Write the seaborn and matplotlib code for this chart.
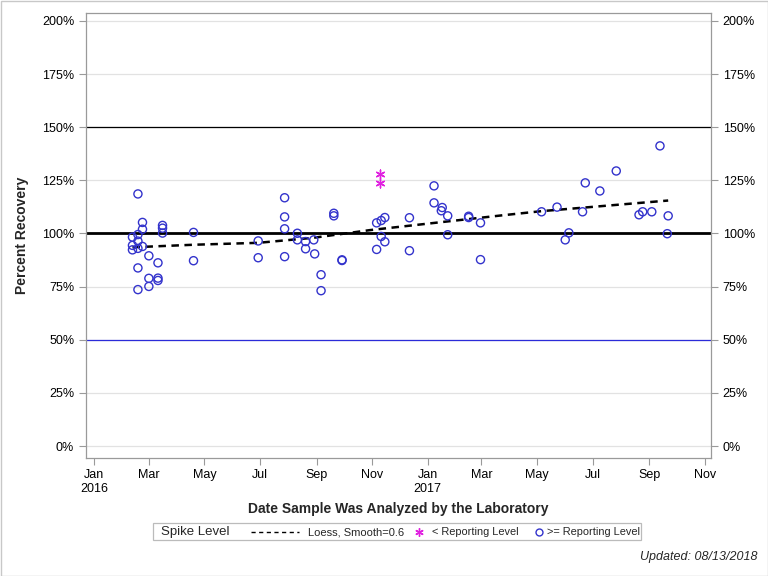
import matplotlib
matplotlib.use("Agg")
import matplotlib.pyplot as plt
import matplotlib.dates as mdates
from matplotlib.lines import Line2D
from matplotlib.patches import Rectangle
import seaborn as sns
import pandas as pd
import numpy as np

# ---- data ----
ge_dates = [
    "2016-02-18", "2016-02-23", "2016-02-23", "2016-02-18", "2016-02-12", "2016-02-18",
    "2016-02-12", "2016-02-23", "2016-02-18", "2016-02-12", "2016-03-01", "2016-03-11",
    "2016-02-18", "2016-03-01", "2016-03-11", "2016-03-11", "2016-03-01", "2016-02-18",
    "2016-03-16", "2016-03-16", "2016-03-16", "2016-04-19", "2016-04-19",
    "2016-06-29", "2016-06-29", "2016-07-28", "2016-07-28", "2016-07-28", "2016-07-28",
    "2016-08-11", "2016-08-11", "2016-08-20", "2016-08-20", "2016-08-29", "2016-08-30",
    "2016-09-06", "2016-09-06", "2016-09-20", "2016-09-20", "2016-09-29", "2016-09-29",
    "2016-11-06", "2016-11-11", "2016-11-15", "2016-11-11", "2016-11-15", "2016-11-06",
    "2016-12-12", "2016-12-12",
    "2017-01-08", "2017-01-08", "2017-01-17", "2017-01-16", "2017-01-23", "2017-01-23",
    "2017-02-15", "2017-02-15", "2017-02-28", "2017-02-28",
    "2017-05-06", "2017-05-23", "2017-06-20", "2017-06-23", "2017-07-09", "2017-07-27",
    "2017-06-01", "2017-06-05", "2017-08-21", "2017-08-25", "2017-09-04", "2017-09-13",
    "2017-09-22", "2017-09-21",
]
ge_values = [
    118.6, 105.2, 102.0, 99.5, 98.3, 96.4,
    94.4, 93.9, 93.0, 92.3, 89.5, 86.2,
    83.8, 78.9, 79.0, 77.9, 75.1, 73.6,
    103.8, 102.5, 100.2, 100.5, 87.2,
    96.5, 88.6, 116.8, 107.8, 102.2, 89.1,
    100.1, 97.0, 96.2, 92.8, 97.0, 90.4,
    80.6, 73.1, 109.5, 108.3, 87.6, 87.3,
    105.0, 106.1, 107.5, 98.6, 96.1, 92.5,
    107.4, 91.9,
    122.4, 114.4, 112.2, 110.7, 108.3, 99.4,
    108.1, 107.5, 105.0, 87.7,
    110.2, 112.4, 110.2, 123.8, 120.0, 129.4,
    97.0, 100.3, 108.8, 110.2, 110.2, 141.2,
    108.3, 99.9,
]
lt_dates = ["2016-11-10", "2016-11-10"]
lt_values = [128.0, 123.8]

loess_dates = ["2016-02-12", "2016-04-19", "2016-06-29", "2016-08-29",
               "2016-10-30", "2017-03-23", "2017-05-06", "2017-09-22"]
loess_values = [93.5, 94.7, 95.6, 98.0, 101.6, 108.5, 110.5, 115.5]

y_ticks = [0, 25, 50, 75, 100, 125, 150, 175, 200]
ref_lines = {150: ("black", 0.9), 100: ("black", 2.0), 50: ("#2B2BD9", 0.9)}

ge = pd.DataFrame({"date": pd.to_datetime(ge_dates), "pct": ge_values})
lt = pd.DataFrame({"date": pd.to_datetime(lt_dates), "pct": lt_values})
lo = pd.DataFrame({"date": pd.to_datetime(loess_dates), "pct": loess_values})

sns.set_theme(style="white")
plt.rcParams["font.family"] = ["Liberation Sans", "DejaVu Sans"]

fig = plt.figure(figsize=(7.68, 5.76), dpi=100)
ax = fig.add_axes([86/768, 1-458/576, (711-86)/768, (458-13)/576])

frame_col = "#9A9A9A"
for y in y_ticks:
    ax.axhline(y, color="#E2E2E2", lw=0.9, zorder=0)
for y, (c, w) in ref_lines.items():
    ax.axhline(y, color=c, lw=w, zorder=1)

sns.lineplot(data=lo, x="date", y="pct", ax=ax, color="black", lw=1.8,
             linestyle=(0, (3.0, 2.2)), zorder=3, legend=False)
sns.scatterplot(data=ge, x="date", y="pct", ax=ax, marker="o", s=34,
                facecolor="none", edgecolor="#3333CC", linewidth=1.0, zorder=4, legend=False)
sns.scatterplot(data=lt, x="date", y="pct", ax=ax, marker=(6, 2, 0), s=40,
                color="#E020E0", linewidth=1.0, zorder=4, legend=False)

ax.set_xlim(pd.Timestamp("2015-12-23"), pd.Timestamp("2017-11-08"))
ax.set_ylim(-5.6, 203.7)
ax.set_yticks(y_ticks)
ax.set_yticklabels([f"{v}%" for v in y_ticks])
ticks = pd.date_range("2016-01-01", "2017-11-01", freq="2MS")
ax.set_xticks(ticks)
labels = []
for t in ticks:
    s = t.strftime("%b")
    if t.month == 1:
        s += "\n" + str(t.year)
    labels.append(s)
ax.set_xticklabels(labels)
ax.tick_params(axis="both", labelsize=9, colors="black", length=5, width=0.8,
               direction="out")
ax.tick_params(axis="both", color=frame_col)
ax.tick_params(axis="y", right=True, labelright=True, left=True)
ax.tick_params(axis="x", bottom=True, pad=3)
for sp in ax.spines.values():
    sp.set_color(frame_col)
    sp.set_linewidth(0.9)

ax.set_xlabel("Date Sample Was Analyzed by the Laboratory", fontsize=10,
              fontweight="bold", labelpad=5)
ax.set_ylabel("Percent Recovery", fontsize=10, fontweight="bold", labelpad=9)

# legend box
lx0, ly0, lx1, ly1 = 153/768, 1-540/576, 641/768, 1-523/576
fig.patches.append(Rectangle((lx0, ly0), lx1-lx0, ly1-ly0, transform=fig.transFigure,
                             fill=False, edgecolor="#BBBBBB", lw=0.9))
ymid = (ly0 + ly1) / 2
ytxt = ymid - 0.8/576
fig.text(161/768, ytxt, "Spike Level", fontsize=9.5, va="center", ha="left")
fig.add_artist(Line2D([251/768, 299/768], [ymid, ymid], transform=fig.transFigure,
                      color="black", lw=1.0, linestyle=(0, (3, 2.5))))
fig.text(308/768, ytxt, "Loess, Smooth=0.6", fontsize=8, va="center", ha="left")
fig.add_artist(Line2D([419/768], [ymid], transform=fig.transFigure, marker=(6, 2, 0),
                      markersize=6, color="#E020E0", markeredgewidth=1.0, lw=0))
fig.text(432/768, ytxt, "< Reporting Level", fontsize=7.9, va="center", ha="left")
fig.add_artist(Line2D([539/768], [ymid], transform=fig.transFigure, marker="o",
                      markersize=5, markerfacecolor="none", markeredgecolor="#3333CC",
                      markeredgewidth=1.0, lw=0))
fig.text(547/768, ytxt, ">= Reporting Level", fontsize=7.9, va="center", ha="left")

fig.text(757/768, 1-557/576, "Updated: 08/13/2018", fontsize=9, style="italic",
         ha="right", va="center")

fig.patches.append(Rectangle((0.5/768, 0.5/576), 1-1/768, 1-1/576, transform=fig.transFigure,
                             fill=False, edgecolor="#C8C8C8", lw=1.0))

fig.savefig("out.png", dpi=100)
